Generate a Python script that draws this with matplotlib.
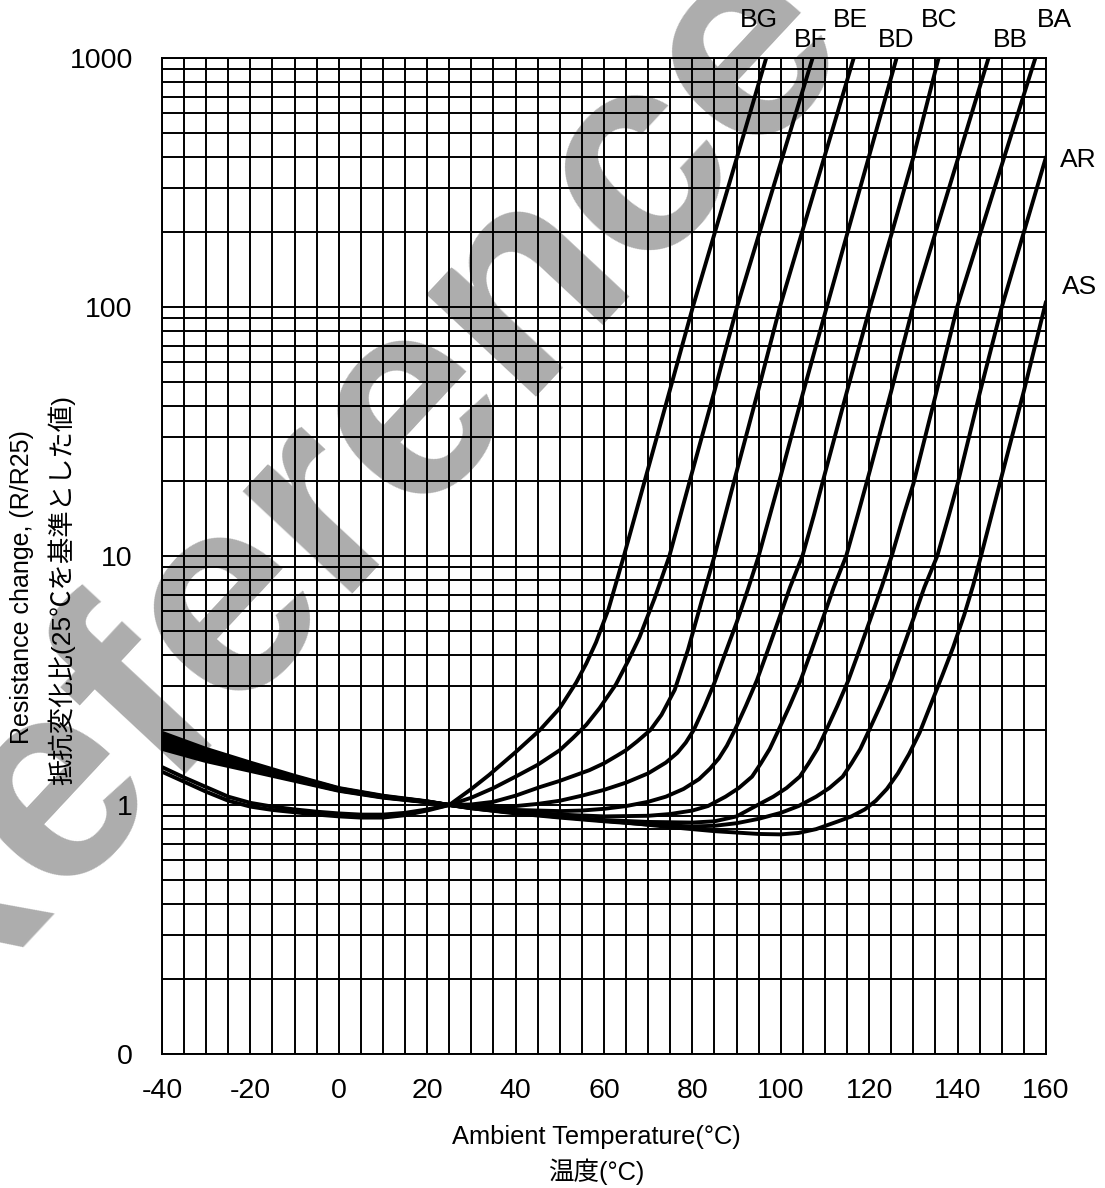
import numpy as np
import matplotlib.pyplot as plt
from matplotlib.ticker import LogLocator, NullFormatter

# 曲線データ (温度 °C, R/R25) - 図から読み取り
bg_t = [-40, -35, -30, -25, -20, -15, -10, -5, 0, 5, 10, 15, 20, 25, 30, 34, 40, 45.5, 50, 53.7, 56, 58.2, 61, 64.5, 70, 75, 80.1, 85, 90, 96.7]
bg_r = [1.36, 1.24, 1.13, 1.04, 0.985, 0.955, 0.935, 0.915, 0.9, 0.89, 0.89, 0.91, 0.95, 1.0, 1.16, 1.32, 1.63, 2.0, 2.45, 3.1, 3.7, 4.5, 6.1, 10, 22.5, 47, 100, 197, 394, 1000]

bf_t = [-40, -35, -30, -25, -20, -15, -10, -5, 0, 5, 10, 15, 20, 25, 30, 35, 40, 45, 50, 53, 56, 59, 62.7, 65.5, 68, 71.5, 74.8, 80, 85, 90.1, 95, 100, 107.2]
bf_r = [1.42, 1.29, 1.18, 1.08, 1.02, 0.985, 0.96, 0.94, 0.925, 0.915, 0.915, 0.93, 0.96, 1.0, 1.07, 1.17, 1.30, 1.45, 1.66, 1.86, 2.1, 2.45, 3.05, 3.8, 4.7, 6.8, 10, 21.9, 46, 100, 194, 380, 1000]

be_t = [-40, -30, -20, -10, 0, 10, 20, 25, 30, 35, 40, 45.5, 50, 56.7, 60, 63, 65, 67.5, 70.5, 73, 76, 79, 82, 85, 90, 95, 99.8, 105, 110, 116.5]
be_r = [1.68, 1.50, 1.37, 1.25, 1.14, 1.07, 1.025, 1.0, 1.005, 1.03, 1.09, 1.18, 1.25, 1.38, 1.47, 1.58, 1.66, 1.8, 2.0, 2.3, 2.9, 4.2, 6.5, 10, 21.8, 47, 100, 205, 408, 1000]

bd_t = [-40, -30, -20, -10, 0, 10, 20, 25, 30, 35, 40, 45, 50, 55, 60, 65, 70, 74, 76.6, 78.5, 80.3, 82.8, 85, 87.5, 90, 92.5, 95, 97.5, 100, 105, 110.4, 115, 120, 126.2]
bd_r = [1.72, 1.53, 1.385, 1.26, 1.145, 1.074, 1.027, 1.0, 0.99, 0.985, 0.99, 1.01, 1.04, 1.09, 1.15, 1.23, 1.34, 1.48, 1.62, 1.78, 2.0, 2.5, 3.1, 4.1, 5.4, 7.3, 10, 14.5, 21, 45, 100, 196, 405, 1000]

bc_t = [-40, -30, -20, -10, 0, 10, 20, 25, 30, 40, 50, 55, 60, 65, 70, 74, 78, 81.5, 84, 86, 87.8, 89.6, 92.1, 94.6, 97.1, 99.6, 102.1, 104.9, 107.5, 110, 115, 120.2, 125, 130, 135.7]
bc_r = [1.76, 1.56, 1.40, 1.27, 1.15, 1.077, 1.028, 1.0, 0.98, 0.955, 0.945, 0.95, 0.965, 0.99, 1.03, 1.08, 1.16, 1.27, 1.4, 1.54, 1.73, 2.0, 2.5, 3.17, 4.2, 5.6, 7.5, 10, 14.6, 21.5, 46, 100, 195, 400, 1000]

bb_t = [-40, -30, -20, -10, 0, 10, 20, 25, 30, 40, 50, 60, 70, 75, 80, 83.5, 87.5, 90.5, 93.5, 95.5, 97.5, 99.5, 102, 104.5, 107, 109.5, 112, 114.8, 117.5, 120, 125, 129.9, 135, 141, 147]
bb_r = [1.81, 1.59, 1.42, 1.28, 1.155, 1.08, 1.03, 1.0, 0.975, 0.94, 0.915, 0.9, 0.905, 0.92, 0.95, 0.99, 1.08, 1.17, 1.3, 1.47, 1.68, 2.0, 2.5, 3.17, 4.2, 5.6, 7.5, 10, 14.8, 21.5, 46, 100, 199, 446, 1000]

ba_t = [-40, -30, -20, -10, 0, 10, 20, 25, 30, 40, 50, 60, 70, 80, 85, 90, 94.3, 98.3, 101.3, 104.3, 106.3, 108.3, 110.3, 112.8, 115.3, 117.8, 120.3, 122.8, 125.1, 128, 130, 135, 139.9, 145, 150, 157.6]
ba_r = [1.86, 1.62, 1.44, 1.29, 1.16, 1.082, 1.032, 1.0, 0.97, 0.93, 0.895, 0.87, 0.855, 0.85, 0.86, 0.9, 0.99, 1.08, 1.17, 1.3, 1.47, 1.68, 2.0, 2.5, 3.17, 4.2, 5.6, 7.5, 10, 15, 19.5, 44, 100, 194, 372, 1000]

ar_t = [-40, -30, -20, -10, 0, 10, 20, 25, 30, 40, 50, 60, 70, 80, 85, 90, 95, 100, 104, 108, 111, 114, 116, 118, 120, 122.5, 125, 127.5, 130, 132.5, 135.4, 138, 140, 145, 150, 155, 160]
ar_r = [1.91, 1.65, 1.46, 1.30, 1.165, 1.085, 1.033, 1.0, 0.97, 0.925, 0.89, 0.86, 0.835, 0.82, 0.825, 0.845, 0.88, 0.93, 0.99, 1.08, 1.17, 1.3, 1.47, 1.68, 2.0, 2.5, 3.17, 4.2, 5.6, 7.5, 10, 14.5, 19.5, 45, 100, 200, 400]

as_t = [-40, -30, -20, -10, 0, 10, 20, 25, 35, 45, 55, 65, 75, 85, 95, 100, 104, 108, 113, 116, 119, 121.5, 124, 126.5, 129, 131.4, 134, 136.5, 139, 141.5, 143.5, 145.3, 150, 155, 159.7, 160]
as_r = [1.95, 1.68, 1.48, 1.31, 1.17, 1.09, 1.035, 1.0, 0.95, 0.915, 0.88, 0.85, 0.815, 0.785, 0.765, 0.762, 0.772, 0.80, 0.86, 0.9, 0.96, 1.04, 1.16, 1.34, 1.6, 1.95, 2.55, 3.3, 4.3, 5.8, 7.6, 10, 21, 46, 100, 105]

names = ['BG', 'BF', 'BE', 'BD', 'BC', 'BB', 'BA', 'AR', 'AS']
temps = [bg_t, bf_t, be_t, bd_t, bc_t, bb_t, ba_t, ar_t, as_t]
ratios = [bg_r, bf_r, be_r, bd_r, bc_r, bb_r, ba_r, ar_r, as_r]

# ラベル位置のずれ (ピクセル)
label_dx = [-7, -2, -3, 0, 1, 22, 19, 32, 34]
label_dy = [38, 18, 38, 18, 38, 18, 38, -3, 15]

x_ticks = [-40, -20, 0, 20, 40, 60, 80, 100, 120, 140, 160]
y_ticks = [0.1, 1, 10, 100, 1000]
y_tick_labels = ['0', '1', '10', '100', '1000']

plt.rcParams['font.family'] = ['Liberation Sans', 'Noto Sans CJK JP']
plt.rcParams['axes.unicode_minus'] = False

fig = plt.figure(figsize=(11.05, 11.88), dpi=100)
ax = fig.add_axes([0.1466, 0.1128, 0.8, 0.8384])
ax.patch.set_alpha(0)

for t, r, nm, dx, dy in zip(temps, ratios, names, label_dx, label_dy):
    ax.plot(t, r, color='black', lw=2.8, zorder=3, solid_capstyle='round')
    ax.annotate(nm, (t[-1], r[-1]), xytext=(dx, dy), textcoords='offset pixels',
                ha='center', va='center', fontsize=19, annotation_clip=False)

ax.set_yscale('log')
ax.set_xlim(-40, 160)
ax.set_ylim(0.1, 1000)
ax.set_xticks(x_ticks)
ax.set_xticks(np.arange(-40, 161, 5), minor=True)
ax.set_yticks(y_ticks)
ax.set_yticklabels(y_tick_labels)
ax.yaxis.set_minor_locator(LogLocator(base=10, subs=np.arange(2, 10)))
ax.yaxis.set_minor_formatter(NullFormatter())
ax.grid(which='both', color='black', lw=1.4)
ax.set_axisbelow(True)
ax.tick_params(which='both', length=0, labelsize=20.5)
ax.tick_params(axis='y', pad=21)
ax.tick_params(axis='x', pad=17)
for s in ax.spines.values():
    s.set_linewidth(1.4)

fig.text(0.54, 1 - 1137 / 1188, 'Ambient Temperature(°C)', ha='center', va='center', fontsize=18.4)
fig.text(0.54, 1 - 1172 / 1188, '温度(°C)', ha='center', va='center', fontsize=18.4)
fig.text(22 / 1105, 1 - 587 / 1188, 'Resistance change, (R/R25)', rotation=90,
         ha='center', va='center', fontsize=18)
fig.text(62 / 1105, 1 - 590 / 1188, '抵抗変化比(25℃を基準とした値)', rotation=90,
         ha='center', va='center', fontsize=19)

# 透かし
fig.text(0.2977, 0.5867, 'Reference', rotation=47, ha='center', va='center',
         fontsize=205, fontweight='bold', color='#adadad', zorder=-1,
         rotation_mode='anchor')

fig.savefig('out.png', dpi=100)
